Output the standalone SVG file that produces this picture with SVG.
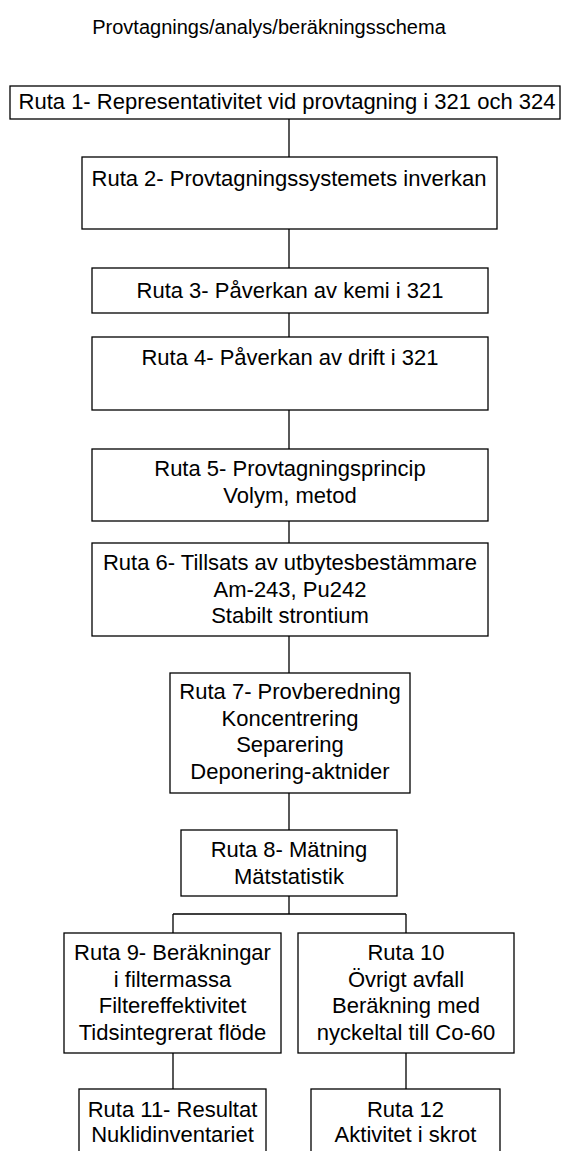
<svg xmlns="http://www.w3.org/2000/svg" width="561" height="1151" viewBox="0 0 561 1151">
<style>
.box{fill:#fff;stroke:#000;stroke-width:1.3}
.t{font-family:"Liberation Sans",Arial,sans-serif;font-size:22px;fill:#000;text-anchor:middle}
.title{font-family:"Liberation Sans",Arial,sans-serif;font-size:20px;fill:#000;text-anchor:middle}
.c{fill:none;stroke:#000;stroke-width:1.3}
</style>
<rect width="561" height="1151" fill="#fff"/>
<text class="title" x="269" y="34">Provtagnings/analys/beräkningsschema</text>
<g id="connectors">
<path class="c" d="M289 119V157M289 229V268M289 313V337M289 410V449M289 521V543M289 636V673M289 793V830M289 896V914M173 914H406M173 914V933M406 914V933M173 1053V1089M406 1053V1089"/>
</g>
<g id="ruta1"><rect class="box" x="10" y="86" width="550" height="33"/><text class="t" x="287" y="109">Ruta 1- Representativitet vid provtagning i 321 och 324</text></g>
<g id="ruta2"><rect class="box" x="82" y="157" width="415" height="72"/><text class="t" x="289" y="186">Ruta 2- Provtagningssystemets inverkan</text></g>
<g id="ruta3"><rect class="box" x="92" y="268" width="396" height="45"/><text class="t" x="290" y="298">Ruta 3- Påverkan av kemi i 321</text></g>
<g id="ruta4"><rect class="box" x="92" y="337" width="396" height="73"/><text class="t" x="290" y="365">Ruta 4- Påverkan av drift i 321</text></g>
<g id="ruta5"><rect class="box" x="92" y="449" width="396" height="72"/><text class="t" x="290" y="476">Ruta 5- Provtagningsprincip<tspan x="290" dy="26.7">Volym, metod</tspan></text></g>
<g id="ruta6"><rect class="box" x="92" y="543" width="396" height="93"/><text class="t" x="290" y="570">Ruta 6- Tillsats av utbytesbestämmare<tspan x="290" dy="26.7">Am-243, Pu242</tspan><tspan x="290" dy="26.7">Stabilt strontium</tspan></text></g>
<g id="ruta7"><rect class="box" x="170" y="673" width="240" height="120"/><text class="t" x="290" y="699">Ruta 7- Provberedning<tspan x="290" dy="26.7">Koncentrering</tspan><tspan x="290" dy="26.7">Separering</tspan><tspan x="290" dy="26.7">Deponering-aktnider</tspan></text></g>
<g id="ruta8"><rect class="box" x="181" y="830" width="216" height="66"/><text class="t" x="289" y="857">Ruta 8- Mätning<tspan x="289" dy="26.7">Mätstatistik</tspan></text></g>
<g id="ruta9"><rect class="box" x="64" y="933" width="217" height="120"/><text class="t" x="172.5" y="960">Ruta 9- Beräkningar<tspan x="172.5" dy="26.7">i filtermassa</tspan><tspan x="172.5" dy="26.7">Filtereffektivitet</tspan><tspan x="172.5" dy="26.7">Tidsintegrerat flöde</tspan></text></g>
<g id="ruta10"><rect class="box" x="298" y="933" width="216" height="120"/><text class="t" x="406" y="960">Ruta 10<tspan x="406" dy="26.7">Övrigt avfall</tspan><tspan x="406" dy="26.7">Beräkning med</tspan><tspan x="406" dy="26.7">nyckeltal till Co-60</tspan></text></g>
<g id="ruta11"><rect class="box" x="79" y="1089" width="187" height="90"/><text class="t" x="172.5" y="1117">Ruta 11- Resultat<tspan x="172.5" dy="25">Nuklidinventariet</tspan></text></g>
<g id="ruta12"><rect class="box" x="311" y="1089" width="189" height="90"/><text class="t" x="405.5" y="1117">Ruta 12<tspan x="405.5" dy="25">Aktivitet i skrot</tspan></text></g>
</svg>
